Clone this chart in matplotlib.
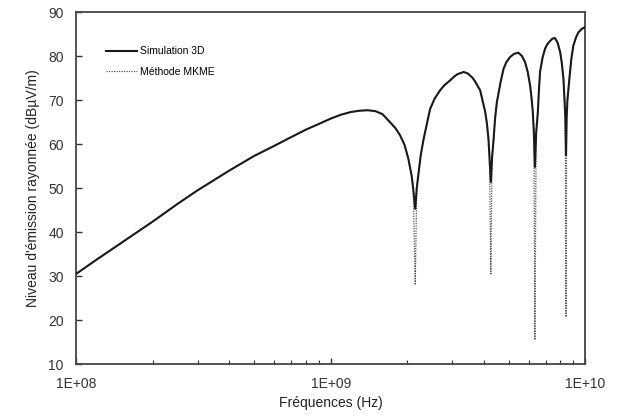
import matplotlib
matplotlib.use("Agg")
import matplotlib.pyplot as plt
from matplotlib.ticker import FixedLocator, LogLocator, NullFormatter

plt.rcParams["font.family"] = ["Liberation Sans", "DejaVu Sans"]

# Frequencies (GHz)
freq_ghz = [
    0.10, 0.12, 0.15, 0.20, 0.25, 0.30, 0.40, 0.50, 0.60, 0.70,
    0.80, 0.90, 1.00, 1.10, 1.20, 1.30, 1.40, 1.50, 1.60, 1.71,
    1.80, 1.875, 1.95, 2.02, 2.08, 2.11, 2.15, 2.18, 2.21, 2.26,
    2.32, 2.46, 2.56, 2.69, 2.80, 2.95, 3.05, 3.15, 3.33, 3.45,
    3.53, 3.62, 3.70, 3.87, 4.05, 4.11, 4.17, 4.21, 4.26, 4.31,
    4.37, 4.43, 4.50, 4.65, 4.78, 4.90, 5.07, 5.25, 5.46, 5.65,
    5.81, 5.95, 6.08, 6.15, 6.23, 6.29, 6.35, 6.42, 6.52, 6.58,
    6.65, 6.80, 6.96, 7.10, 7.30, 7.45, 7.62, 7.80, 7.98, 8.10,
    8.22, 8.30, 8.36, 8.41, 8.46, 8.52, 8.67, 8.82, 8.99, 9.20,
    9.41, 9.70, 10.0,
]

# Radiated emission level, 3D simulation (dBuV/m)
sim_db = [
    30.5, 33.7, 37.5, 42.4, 46.4, 49.5, 54.0, 57.3, 59.6, 61.6,
    63.3, 64.6, 65.8, 66.7, 67.3, 67.6, 67.7, 67.5, 66.8, 65.0,
    63.6, 62.0, 59.9, 56.7, 52.9, 50.0, 45.3, 50.0, 52.9, 57.5,
    61.2, 68.0, 70.3, 72.2, 73.4, 74.5, 75.3, 75.9, 76.4, 76.1,
    75.6, 75.0, 74.2, 72.2, 67.3, 64.8, 61.2, 57.0, 51.4, 57.0,
    61.2, 66.0, 69.5, 74.0, 77.1, 78.6, 79.8, 80.5, 80.8, 80.0,
    78.6, 76.4, 73.3, 70.8, 67.3, 62.5, 54.8, 62.5, 67.3, 72.0,
    76.4, 79.6, 81.7, 82.7, 83.5, 84.0, 84.1, 83.0, 80.9, 78.4,
    74.8, 70.0, 66.0, 57.5, 66.0, 70.0, 74.8, 79.2, 82.4, 84.2,
    85.4, 86.2, 86.6,
]

# MKME method: same curve, but with much deeper nulls
mkme_db = list(sim_db)
null_ghz = [2.15, 4.26, 6.35, 8.41]
null_db = [28.0, 30.5, 15.5, 20.7]
for f, v in zip(null_ghz, null_db):
    mkme_db[freq_ghz.index(f)] = v

x_ticks = [1e8, 1e9, 1e10]
x_tick_labels = ["1E+08", "1E+09", "1E+10"]
y_ticks = [10, 20, 30, 40, 50, 60, 70, 80, 90]

freq_hz = [f * 1e9 for f in freq_ghz]

fig = plt.figure(figsize=(6.24, 4.19), dpi=100)
ax = fig.add_axes([0.122, 0.131, 0.8157, 0.840])

mk, = ax.plot(freq_hz, mkme_db, color="#555555", linewidth=0.9,
              linestyle=(0, (1, 1)), label="Méthode MKME", zorder=2)
sim, = ax.plot(freq_hz, sim_db, color="#1a1a1a", linewidth=1.5,
               label="Simulation 3D", zorder=3)

ax.set_xscale("log")
ax.set_xlim(1e8, 1e10)
ax.set_ylim(10, 90)
ax.xaxis.set_major_locator(FixedLocator(x_ticks))
ax.set_xticklabels(x_tick_labels)
ax.xaxis.set_minor_locator(LogLocator(base=10, subs=range(2, 10)))
ax.xaxis.set_minor_formatter(NullFormatter())
ax.set_yticks(y_ticks)

ax.tick_params(axis="both", which="major", direction="in", length=4,
               width=1.0, labelsize=10, colors="#333333", pad=9)
ax.tick_params(axis="x", which="minor", direction="in", length=3, width=0.8,
               colors="#333333")
for s in ax.spines.values():
    s.set_color("#444444")
    s.set_linewidth(1.3)

ax.set_xlabel("Fréquences (Hz)", fontsize=10, color="#222222", labelpad=4)
ax.set_ylabel("Niveau d'émission rayonnée (dBµV/m)", fontsize=10,
              color="#222222", labelpad=6)

ax.legend(handles=[sim, mk], loc="upper left", bbox_to_anchor=(0.04, 0.93),
          frameon=False, fontsize=7.5, handlelength=3.0, handletextpad=0.3,
          labelspacing=1.0)

fig.savefig("out.png", dpi=100, facecolor="white")
